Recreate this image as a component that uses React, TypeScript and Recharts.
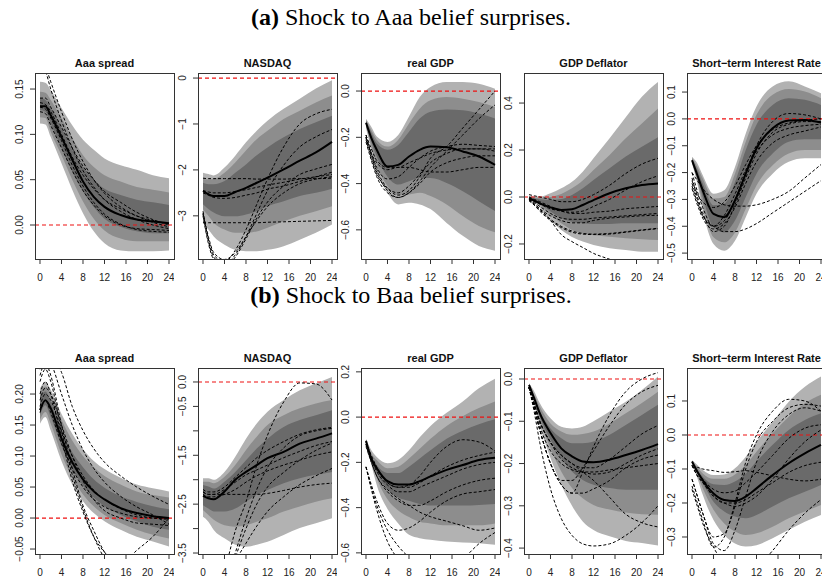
import { Area, ComposedChart, Line, ReferenceLine, XAxis, YAxis } from "recharts";

// horizons (months) at which the responses are read
const HORIZONS = [0, 1, 2, 4, 6, 8, 10, 12, 15, 18, 21, 24];
const X_TICKS = [0, 4, 8, 12, 16, 20, 24];
const TITLES = ["Aaa spread", "NASDAQ", "real GDP", "GDP Deflator", "Short\u2212term Interest Rate"];
const M = "\u2212";

// bands: [lo outer, hi outer, lo mid, hi mid, lo inner, hi inner]
// ---- (a) Shock to Aaa belief surprises
const A_SPREAD_BANDS = [
  [0.112, 0.111, 0.097, 0.068, 0.039, 0.013, -0.007, -0.02, -0.028, -0.029, -0.029, -0.028],
  [0.158, 0.157, 0.149, 0.129, 0.11, 0.094, 0.083, 0.0735, 0.066, 0.061, 0.055, 0.0515],
  [0.119, 0.118, 0.103, 0.077, 0.05, 0.026, 0.007, -0.006, -0.015, -0.018, -0.018, -0.018],
  [0.147, 0.146, 0.138, 0.118, 0.096, 0.077, 0.064, 0.055, 0.048, 0.042, 0.039, 0.036],
  [0.127, 0.125, 0.112, 0.085, 0.059, 0.037, 0.02, 0.007, -0.002, -0.007, -0.009, -0.009],
  [0.14, 0.138, 0.129, 0.107, 0.083, 0.064, 0.05, 0.04, 0.033, 0.028, 0.025, 0.022],
];
const A_SPREAD_MED = [0.131, 0.131, 0.121, 0.097, 0.072, 0.048, 0.031, 0.02, 0.011, 0.006, 0.004, 0.002];
const A_SPREAD_DRAWS = [
  [0.185, 0.175, 0.158, 0.125, 0.095, 0.07, 0.05, 0.035, 0.02, 0.01, 0.003, -0.002],
  [0.178, 0.17, 0.15, 0.115, 0.085, 0.06, 0.042, 0.028, 0.015, 0.006, 0.0, -0.004],
  [0.135, 0.133, 0.125, 0.1, 0.075, 0.055, 0.04, 0.028, 0.018, 0.01, 0.005, 0.001],
  [0.125, 0.123, 0.11, 0.085, 0.06, 0.038, 0.022, 0.01, 0.0, -0.004, -0.005, -0.006],
  [0.13, 0.128, 0.118, 0.093, 0.066, 0.043, 0.025, 0.012, 0.001, -0.005, -0.007, -0.008],
  [0.14, 0.14, 0.13, 0.108, 0.085, 0.065, 0.05, 0.037, 0.025, 0.014, 0.006, 0.0],
];

const A_NASDAQ_BANDS = [
  [-3.15, -3.3, -3.45, -3.63, -3.74, -3.77, -3.77, -3.74, -3.66, -3.52, -3.37, -3.19],
  [-2.06, -2.09, -2.12, -1.95, -1.69, -1.4, -1.15, -0.93, -0.67, -0.45, -0.23, -0.05],
  [-2.86, -3.0, -3.15, -3.3, -3.37, -3.37, -3.34, -3.26, -3.12, -3.0, -2.9, -2.79],
  [-2.2, -2.21, -2.2, -2.06, -1.84, -1.58, -1.33, -1.15, -0.89, -0.71, -0.53, -0.38],
  [-2.75, -2.85, -2.93, -3.01, -3.01, -2.97, -2.9, -2.79, -2.68, -2.57, -2.5, -2.41],
  [-2.28, -2.31, -2.31, -2.24, -2.06, -1.88, -1.68, -1.51, -1.29, -1.11, -0.96, -0.82],
];
const A_NASDAQ_MED = [-2.46, -2.53, -2.57, -2.57, -2.48, -2.39, -2.28, -2.17, -1.99, -1.8, -1.62, -1.39];
const A_NASDAQ_DRAWS = [
  [-2.18, -2.19, -2.19, -2.19, -2.19, -2.19, -2.2, -2.2, -2.2, -2.19, -2.19, -2.18],
  [-3.15, -3.15, -3.15, -3.15, -3.15, -3.15, -3.15, -3.14, -3.13, -3.12, -3.11, -3.1],
  [-2.45, -2.48, -2.5, -2.5, -2.47, -2.43, -2.38, -2.33, -2.27, -2.2, -2.15, -2.1],
  [-2.5, -2.55, -2.6, -2.62, -2.6, -2.55, -2.5, -2.42, -2.35, -2.25, -2.15, -2.05],
  [-2.95, -3.5, -3.85, -4.0, -3.75, -3.3, -2.75, -2.2, -1.5, -1.0, -0.78, -0.68],
  [-2.95, -3.55, -3.9, -4.05, -3.85, -3.45, -2.95, -2.45, -1.9, -1.5, -1.28, -1.12],
  [-3.0, -3.6, -3.95, -4.1, -3.9, -3.5, -3.05, -2.7, -2.35, -2.1, -1.98, -1.88],
  [-2.9, -3.45, -3.8, -3.95, -3.8, -3.45, -3.1, -2.8, -2.5, -2.3, -2.2, -2.15],
];

const A_GDP_BANDS = [
  [-0.16, -0.254, -0.34, -0.44, -0.49, -0.483, -0.49, -0.51, -0.57, -0.626, -0.67, -0.69],
  [-0.12, -0.155, -0.197, -0.22, -0.19, -0.11, -0.026, 0.017, 0.039, 0.039, 0.031, 0.01],
  [-0.15, -0.24, -0.32, -0.41, -0.45, -0.447, -0.44, -0.454, -0.49, -0.54, -0.583, -0.61],
  [-0.125, -0.17, -0.21, -0.24, -0.21, -0.14, -0.076, -0.04, -0.026, -0.033, -0.047, -0.069],
  [-0.145, -0.22, -0.283, -0.37, -0.404, -0.39, -0.376, -0.376, -0.397, -0.433, -0.476, -0.519],
  [-0.13, -0.18, -0.226, -0.254, -0.233, -0.176, -0.119, -0.09, -0.08, -0.083, -0.097, -0.119],
];
const A_GDP_MED = [-0.137, -0.204, -0.254, -0.326, -0.319, -0.283, -0.254, -0.24, -0.243, -0.261, -0.283, -0.319];
const A_GDP_DRAWS = [
  [-0.19, -0.27, -0.34, -0.42, -0.45, -0.43, -0.37, -0.29, -0.24, -0.16, -0.08, 0.0],
  [-0.2, -0.28, -0.35, -0.43, -0.46, -0.44, -0.39, -0.33, -0.26, -0.19, -0.12, -0.06],
  [-0.2, -0.27, -0.33, -0.38, -0.37, -0.33, -0.29, -0.26, -0.24, -0.23, -0.235, -0.24],
  [-0.21, -0.29, -0.36, -0.42, -0.44, -0.41, -0.36, -0.31, -0.27, -0.25, -0.25, -0.26],
  [-0.22, -0.3, -0.37, -0.44, -0.46, -0.44, -0.4, -0.35, -0.31, -0.29, -0.28, -0.28],
  [-0.2, -0.27, -0.31, -0.34, -0.33, -0.33, -0.34, -0.35, -0.35, -0.34, -0.33, -0.33],
  [-0.19, -0.25, -0.3, -0.33, -0.33, -0.31, -0.29, -0.27, -0.255, -0.25, -0.25, -0.25],
];

const A_DEFL_BANDS = [
  [-0.016, -0.024, -0.045, -0.098, -0.14, -0.17, -0.19, -0.204, -0.218, -0.226, -0.233, -0.233],
  [0.004, 0.002, 0.002, 0.016, 0.037, 0.065, 0.108, 0.165, 0.25, 0.34, 0.427, 0.49],
  [-0.014, -0.02, -0.034, -0.077, -0.112, -0.14, -0.155, -0.162, -0.169, -0.176, -0.18, -0.183],
  [0.002, -0.002, -0.004, 0.0, 0.013, 0.037, 0.07, 0.115, 0.179, 0.25, 0.313, 0.377],
  [-0.012, -0.018, -0.027, -0.062, -0.09, -0.105, -0.112, -0.115, -0.115, -0.112, -0.112, -0.112],
  [0.0, -0.006, -0.01, -0.013, -0.009, 0.009, 0.037, 0.072, 0.122, 0.172, 0.214, 0.254],
];
const A_DEFL_MED = [-0.006, -0.016, -0.027, -0.044, -0.055, -0.052, -0.034, -0.013, 0.016, 0.037, 0.051, 0.058];
const A_DEFL_DRAWS = [
  [0.01, 0.005, 0.0, -0.01, -0.02, -0.02, -0.01, 0.01, 0.05, 0.1, 0.14, 0.165],
  [0.0, -0.01, -0.02, -0.04, -0.06, -0.065, -0.06, -0.04, -0.01, 0.03, 0.065, 0.09],
  [-0.01, -0.02, -0.03, -0.05, -0.06, -0.07, -0.07, -0.065, -0.06, -0.05, -0.045, -0.04],
  [-0.01, -0.025, -0.04, -0.07, -0.09, -0.095, -0.095, -0.09, -0.085, -0.08, -0.075, -0.07],
  [-0.01, -0.03, -0.05, -0.08, -0.1, -0.11, -0.11, -0.1, -0.09, -0.085, -0.08, -0.078],
  [-0.015, -0.035, -0.055, -0.095, -0.125, -0.145, -0.155, -0.158, -0.155, -0.148, -0.14, -0.133],
  [-0.015, -0.035, -0.06, -0.1, -0.13, -0.15, -0.158, -0.16, -0.158, -0.15, -0.142, -0.135],
  [-0.01, -0.03, -0.05, -0.1, -0.16, -0.19, -0.215, -0.24, -0.265, -0.29, -0.31, -0.32],
];

const A_RATE_BANDS = [
  [-0.166, -0.241, -0.341, -0.466, -0.491, -0.454, -0.366, -0.279, -0.204, -0.16, -0.147, -0.147],
  [-0.141, -0.166, -0.21, -0.279, -0.266, -0.179, -0.054, 0.046, 0.121, 0.14, 0.121, 0.096],
  [-0.162, -0.229, -0.316, -0.441, -0.46, -0.423, -0.335, -0.248, -0.173, -0.129, -0.116, -0.116],
  [-0.146, -0.179, -0.222, -0.297, -0.291, -0.204, -0.085, 0.015, 0.09, 0.111, 0.102, 0.077],
  [-0.16, -0.216, -0.291, -0.404, -0.423, -0.379, -0.291, -0.204, -0.129, -0.085, -0.076, -0.076],
  [-0.15, -0.191, -0.241, -0.322, -0.316, -0.235, -0.116, -0.022, 0.052, 0.077, 0.071, 0.052],
];
const A_RATE_MED = [-0.154, -0.21, -0.266, -0.354, -0.366, -0.304, -0.204, -0.11, -0.035, -0.006, -0.004, -0.014];
const A_RATE_DRAWS = [
  [-0.2, -0.27, -0.33, -0.4, -0.38, -0.3, -0.2, -0.1, -0.01, 0.02, 0.015, 0.0],
  [-0.22, -0.29, -0.35, -0.42, -0.4, -0.32, -0.22, -0.13, -0.05, -0.02, -0.01, -0.01],
  [-0.24, -0.3, -0.36, -0.4, -0.36, -0.28, -0.19, -0.12, -0.06, -0.035, -0.025, -0.02],
  [-0.26, -0.32, -0.37, -0.41, -0.39, -0.33, -0.24, -0.16, -0.09, -0.06, -0.045, -0.03],
  [-0.23, -0.28, -0.31, -0.33, -0.31, -0.25, -0.17, -0.1, -0.04, -0.015, -0.005, 0.0],
  [-0.2, -0.23, -0.26, -0.3, -0.32, -0.325, -0.325, -0.32, -0.3, -0.27, -0.22, -0.17],
  [-0.25, -0.31, -0.36, -0.4, -0.42, -0.42, -0.41, -0.39, -0.35, -0.31, -0.27, -0.23],
];

// ---- (b) Shock to Baa belief surprises
const B_SPREAD_BANDS = [
  [0.152, 0.163, 0.141, 0.092, 0.054, 0.027, 0.008, -0.005, -0.019, -0.03, -0.038, -0.046],
  [0.209, 0.22, 0.207, 0.168, 0.136, 0.111, 0.092, 0.079, 0.065, 0.054, 0.048, 0.043],
  [0.158, 0.171, 0.152, 0.103, 0.065, 0.038, 0.019, 0.005, -0.008, -0.019, -0.027, -0.033],
  [0.204, 0.212, 0.198, 0.158, 0.125, 0.1, 0.082, 0.068, 0.054, 0.043, 0.037, 0.033],
  [0.166, 0.182, 0.163, 0.117, 0.079, 0.052, 0.033, 0.019, 0.005, -0.005, -0.014, -0.019],
  [0.196, 0.204, 0.187, 0.141, 0.106, 0.082, 0.0625, 0.049, 0.035, 0.026, 0.019, 0.014],
];
const B_SPREAD_MED = [0.174, 0.19, 0.177, 0.128, 0.09, 0.0625, 0.043, 0.03, 0.016, 0.008, 0.003, 0.0];
const B_SPREAD_DRAWS = [
  [0.26, 0.27, 0.265, 0.235, 0.18, 0.141, 0.112, 0.09, 0.068, 0.05, 0.035, 0.022],
  [0.24, 0.26, 0.25, 0.2, 0.15, 0.11, 0.08, 0.058, 0.035, 0.018, 0.005, -0.01],
  [0.2, 0.22, 0.2, 0.13, 0.06, 0.01, -0.03, -0.055, -0.075, -0.052, -0.03, 0.0],
  [0.22, 0.24, 0.22, 0.14, 0.07, 0.015, -0.03, -0.065, -0.09, -0.1, -0.1, -0.09],
  [0.23, 0.25, 0.23, 0.15, 0.08, 0.02, -0.02, -0.055, -0.085, -0.095, -0.09, -0.08],
  [0.18, 0.2, 0.19, 0.14, 0.1, 0.068, 0.045, 0.03, 0.015, 0.005, 0.0, -0.002],
  [0.19, 0.21, 0.2, 0.15, 0.1, 0.06, 0.03, 0.012, 0.0, -0.008, -0.01, -0.012],
  [0.17, 0.19, 0.17, 0.12, 0.08, 0.05, 0.03, 0.018, 0.008, 0.002, 0.0, 0.0],
];

const B_NASDAQ_BANDS = [
  [-2.76, -2.86, -3.03, -3.2, -3.33, -3.37, -3.33, -3.27, -3.13, -2.99, -2.89, -2.79],
  [-1.97, -1.97, -2.0, -1.84, -1.53, -1.16, -0.85, -0.61, -0.37, -0.17, -0.03, 0.1],
  [-2.62, -2.72, -2.82, -2.93, -2.96, -2.93, -2.86, -2.79, -2.65, -2.55, -2.45, -2.38],
  [-2.04, -2.04, -2.07, -1.94, -1.7, -1.39, -1.12, -0.88, -0.68, -0.54, -0.44, -0.37],
  [-2.52, -2.59, -2.65, -2.65, -2.59, -2.45, -2.31, -2.21, -2.07, -1.97, -1.9, -1.84],
  [-2.11, -2.14, -2.18, -2.04, -1.84, -1.6, -1.36, -1.16, -0.92, -0.78, -0.68, -0.58],
];
const B_NASDAQ_MED = [-2.33, -2.38, -2.4, -2.24, -2.0, -1.84, -1.7, -1.56, -1.43, -1.26, -1.16, -1.05];
const B_NASDAQ_DRAWS = [
  [-5.5, -5.2, -4.8, -3.9, -3.05, -2.45, -1.7, -1.09, -0.41, -0.02, -0.04, -0.37],
  [-5.5, -5.2, -4.8, -4.2, -3.5, -2.8, -2.2, -1.75, -1.35, -1.1, -1.0, -0.95],
  [-5.5, -5.2, -4.9, -4.3, -3.6, -3.0, -2.5, -2.15, -1.85, -1.6, -1.4, -1.25],
  [-5.5, -5.2, -4.9, -4.4, -3.7, -3.3, -2.95, -2.65, -2.35, -2.1, -1.92, -1.77],
  [-2.25, -2.3, -2.3, -2.3, -2.3, -2.3, -2.3, -2.28, -2.22, -2.15, -2.1, -2.07],
  [-2.2, -2.25, -2.25, -2.15, -1.95, -1.75, -1.55, -1.4, -1.22, -1.07, -0.98, -0.93],
  [-2.25, -2.3, -2.3, -2.2, -2.05, -1.9, -1.8, -1.7, -1.55, -1.42, -1.3, -1.22],
  [-2.3, -2.35, -2.35, -2.3, -2.2, -2.05, -1.92, -1.82, -1.7, -1.6, -1.5, -1.43],
];

const B_GDP_BANDS = [
  [-0.11, -0.21, -0.3, -0.406, -0.47, -0.52, -0.535, -0.542, -0.55, -0.554, -0.557, -0.564],
  [-0.096, -0.147, -0.176, -0.204, -0.19, -0.147, -0.089, -0.039, 0.019, 0.069, 0.127, 0.17],
  [-0.108, -0.197, -0.269, -0.363, -0.413, -0.442, -0.463, -0.47, -0.478, -0.478, -0.478, -0.47],
  [-0.1, -0.161, -0.19, -0.226, -0.219, -0.183, -0.14, -0.096, -0.039, 0.004, 0.04, 0.069],
  [-0.106, -0.19, -0.247, -0.319, -0.355, -0.37, -0.384, -0.391, -0.391, -0.391, -0.388, -0.384],
  [-0.102, -0.176, -0.212, -0.247, -0.247, -0.219, -0.183, -0.147, -0.096, -0.06, -0.032, -0.01],
];
const B_GDP_MED = [-0.104, -0.185, -0.226, -0.283, -0.298, -0.298, -0.283, -0.262, -0.233, -0.212, -0.19, -0.18];
const B_GDP_DRAWS = [
  [-0.11, -0.17, -0.22, -0.29, -0.31, -0.3, -0.26, -0.2, -0.13, -0.1, -0.11, -0.15],
  [-0.12, -0.18, -0.23, -0.29, -0.31, -0.31, -0.29, -0.26, -0.22, -0.19, -0.17, -0.155],
  [-0.12, -0.19, -0.24, -0.3, -0.33, -0.33, -0.31, -0.29, -0.26, -0.23, -0.21, -0.2],
  [-0.13, -0.2, -0.26, -0.33, -0.37, -0.39, -0.39, -0.37, -0.33, -0.3, -0.28, -0.27],
  [-0.22, -0.3, -0.37, -0.47, -0.5, -0.49, -0.46, -0.42, -0.37, -0.34, -0.33, -0.32],
  [-0.22, -0.32, -0.41, -0.55, -0.63, -0.69, -0.72, -0.73, -0.7, -0.63, -0.56, -0.51],
  [-0.12, -0.2, -0.26, -0.32, -0.36, -0.39, -0.42, -0.44, -0.46, -0.48, -0.5, -0.49],
  [-0.22, -0.31, -0.39, -0.5, -0.57, -0.62, -0.66, -0.68, -0.69, -0.68, -0.65, -0.62],
];

const B_DEFL_BANDS = [
  [-0.018, -0.061, -0.109, -0.187, -0.25, -0.3, -0.337, -0.357, -0.372, -0.383, -0.388, -0.394],
  [-0.01, -0.03, -0.057, -0.093, -0.113, -0.117, -0.113, -0.1, -0.077, -0.054, -0.026, 0.006],
  [-0.016, -0.054, -0.097, -0.164, -0.219, -0.258, -0.282, -0.298, -0.309, -0.316, -0.32, -0.321],
  [-0.012, -0.038, -0.065, -0.105, -0.124, -0.132, -0.13, -0.124, -0.105, -0.081, -0.057, -0.03],
  [-0.015, -0.05, -0.089, -0.144, -0.187, -0.219, -0.239, -0.25, -0.258, -0.262, -0.262, -0.262],
  [-0.013, -0.044, -0.076, -0.117, -0.14, -0.152, -0.152, -0.148, -0.132, -0.109, -0.085, -0.061],
];
const B_DEFL_MED = [-0.014, -0.047, -0.081, -0.128, -0.164, -0.183, -0.195, -0.197, -0.191, -0.18, -0.168, -0.154];
const B_DEFL_DRAWS = [
  [-0.02, -0.07, -0.12, -0.2, -0.25, -0.27, -0.22, -0.16, -0.085, -0.03, 0.0, 0.015],
  [-0.02, -0.07, -0.12, -0.2, -0.24, -0.24, -0.21, -0.17, -0.11, -0.06, -0.03, -0.015],
  [-0.02, -0.06, -0.1, -0.15, -0.18, -0.2, -0.21, -0.21, -0.19, -0.16, -0.13, -0.11],
  [-0.02, -0.06, -0.1, -0.15, -0.19, -0.21, -0.22, -0.225, -0.22, -0.2, -0.18, -0.165],
  [-0.02, -0.07, -0.12, -0.2, -0.25, -0.27, -0.27, -0.26, -0.24, -0.21, -0.19, -0.18],
  [-0.02, -0.06, -0.11, -0.17, -0.2, -0.215, -0.22, -0.22, -0.215, -0.21, -0.205, -0.2],
  [-0.02, -0.06, -0.1, -0.15, -0.18, -0.2, -0.22, -0.24, -0.28, -0.32, -0.34, -0.35],
  [-0.02, -0.08, -0.15, -0.26, -0.33, -0.37, -0.39, -0.395, -0.39, -0.37, -0.34, -0.3],
];

const B_RATE_BANDS = [
  [-0.083, -0.127, -0.176, -0.25, -0.294, -0.319, -0.328, -0.324, -0.304, -0.279, -0.255, -0.235],
  [-0.074, -0.088, -0.103, -0.118, -0.116, -0.098, -0.064, -0.02, 0.039, 0.098, 0.142, 0.172],
  [-0.081, -0.118, -0.157, -0.22, -0.26, -0.284, -0.294, -0.289, -0.27, -0.245, -0.225, -0.206],
  [-0.076, -0.096, -0.113, -0.129, -0.129, -0.116, -0.088, -0.049, 0.005, 0.054, 0.093, 0.118],
  [-0.08, -0.113, -0.142, -0.196, -0.225, -0.24, -0.245, -0.235, -0.21, -0.186, -0.167, -0.147],
  [-0.077, -0.103, -0.123, -0.145, -0.147, -0.137, -0.113, -0.078, -0.029, 0.015, 0.044, 0.064],
];
const B_RATE_MED = [-0.078, -0.108, -0.133, -0.172, -0.191, -0.194, -0.181, -0.157, -0.118, -0.083, -0.054, -0.029];
const B_RATE_DRAWS = [
  [-0.15, -0.2, -0.25, -0.33, -0.3, -0.2, -0.08, 0.0, 0.07, 0.105, 0.1, 0.07],
  [-0.13, -0.18, -0.23, -0.3, -0.29, -0.21, -0.1, -0.02, 0.04, 0.08, 0.09, 0.085],
  [-0.09, -0.095, -0.1, -0.105, -0.11, -0.108, -0.105, -0.11, -0.12, -0.13, -0.135, -0.13],
  [-0.09, -0.11, -0.13, -0.16, -0.17, -0.165, -0.14, -0.11, -0.06, -0.01, 0.02, 0.03],
  [-0.09, -0.12, -0.14, -0.18, -0.2, -0.21, -0.2, -0.18, -0.13, -0.07, -0.02, 0.015],
  [-0.09, -0.12, -0.14, -0.18, -0.2, -0.2, -0.19, -0.17, -0.14, -0.11, -0.09, -0.08],
  [-0.16, -0.21, -0.26, -0.33, -0.38, -0.41, -0.41, -0.39, -0.34, -0.28, -0.23, -0.19],
  [-0.13, -0.18, -0.23, -0.32, -0.34, -0.28, -0.18, -0.08, 0.01, 0.06, 0.08, 0.07],
];

// y-axis ticks and labels per panel
const A_TICKS = [
  [0, 0.05, 0.1, 0.15],
  [-3, -2, -1, 0],
  [-0.6, -0.4, -0.2, 0],
  [-0.2, 0, 0.2, 0.4],
  [-0.5, -0.4, -0.3, -0.2, -0.1, 0, 0.1],
];
const A_LABELS = [
  ["0.00", "0.05", "0.10", "0.15"],
  [M + "3", M + "2", M + "1", "0"],
  [M + "0.6", M + "0.4", M + "0.2", "0.0"],
  [M + "0.2", "0.0", "0.2", "0.4"],
  [M + "0.5", M + "0.4", M + "0.3", M + "0.2", M + "0.1", "0.0", "0.1"],
];
const B_TICKS = [
  [-0.05, 0, 0.05, 0.1, 0.15, 0.2],
  [-3.5, -3, -2.5, -2, -1.5, -1, -0.5, 0],
  [-0.6, -0.4, -0.2, 0, 0.2],
  [-0.4, -0.3, -0.2, -0.1, 0],
  [-0.3, -0.2, -0.1, 0, 0.1],
];
const B_LABELS = [
  [M + "0.05", "0.00", "0.05", "0.10", "0.15", "0.20"],
  [M + "3.5", "", M + "2.5", "", M + "1.5", "", M + "0.5", "0.0"],
  [M + "0.6", M + "0.4", M + "0.2", "0.0", "0.2"],
  [M + "0.4", M + "0.3", M + "0.2", M + "0.1", "0.0"],
  [M + "0.3", M + "0.2", M + "0.1", "0.0", "0.1"],
];

// layout
const BOX_LEFT = [35, 198, 361, 524, 687];
const ROW_TOP = [73, 368];
const BOX_W = 139;
const BOX_H = 186;
const AXIS_W = 40;
const AXIS_H = 30;
const TOP_PAD = 14;
const X_DOMAIN = [-0.93, 24.93];
const A_DOMAINS = [
  [-0.0375, 0.1677],
  [-3.94, 0.11],
  [-0.726, 0.078],
  [-0.264, 0.528],
  [-0.522, 0.171],
];
const B_DOMAINS = [
  [-0.058, 0.242],
  [-3.52, 0.286],
  [-0.605, 0.217],
  [-0.414, 0.026],
  [-0.35, 0.197],
];

const BAND_COLORS = ["#b2b2b2", "#8d8d8d", "#6a6a6a"];
const FONT = "'Liberation Sans', Arial, Helvetica, sans-serif";
const SERIF = "'Liberation Serif', 'Times New Roman', serif";

interface PanelProps {
  bands: number[][];
  median: number[];
  draws: number[][];
  domain: number[];
  ticks: number[];
  labels: string[];
  left: number;
  top: number;
}

function Panel({ bands, median, draws, domain, ticks, labels, left, top }: PanelProps) {
  const rows = HORIZONS.map((h, i) => {
    const r: Record<string, any> = {
      h,
      b1: [bands[0][i], bands[1][i]],
      b2: [bands[2][i], bands[3][i]],
      b3: [bands[4][i], bands[5][i]],
      med: median[i],
    };
    draws.forEach((d, k) => (r["d" + k] = d[i]));
    return r;
  });

  const yTick = (p: any) => {
    const idx = ticks.findIndex((t) => Math.abs(t - p.payload.value) < 1e-9);
    return (
      <text
        transform={`translate(${AXIS_W - 16},${p.y}) rotate(-90)`}
        textAnchor="middle"
        dy="0.35em"
        fontSize={10}
        fontFamily={FONT}
        fill="#222"
      >
        {idx >= 0 ? labels[idx] : ""}
      </text>
    );
  };
  const xTick = (p: any) => (
    <text x={p.x} y={TOP_PAD + BOX_H + 18} textAnchor="middle" dy="0.35em" fontSize={10} fontFamily={FONT} fill="#222">
      {p.payload.value}
    </text>
  );

  return (
    <>
      <div
        style={{
          position: "absolute",
          left: left - AXIS_W,
          top: top - TOP_PAD,
          width: AXIS_W + BOX_W,
          height: TOP_PAD + BOX_H + AXIS_H,
        }}
      >
        <ComposedChart
          width={AXIS_W + BOX_W}
          height={TOP_PAD + BOX_H + AXIS_H}
          data={rows}
          margin={{ top: TOP_PAD, right: 0, bottom: 0, left: 0 }}
        >
          <XAxis
            type="number"
            dataKey="h"
            domain={X_DOMAIN}
            ticks={X_TICKS}
            interval={0}
            allowDataOverflow
            axisLine={false}
            tickSize={5}
            tickLine={{ stroke: "#333" }}
            height={AXIS_H}
            tick={xTick}
          />
          <YAxis
            type="number"
            domain={domain}
            ticks={ticks}
            interval={0}
            allowDataOverflow
            axisLine={false}
            tickSize={5}
            tickLine={{ stroke: "#333" }}
            width={AXIS_W}
            tick={yTick}
          />
          {["b1", "b2", "b3"].map((k, i) => (
            <Area
              key={k}
              dataKey={k}
              type="monotone"
              stroke="none"
              fill={BAND_COLORS[i]}
              fillOpacity={1}
              dot={false}
              activeDot={false}
              isAnimationActive={false}
            />
          ))}
          <ReferenceLine y={0} stroke="#ee1111" strokeWidth={1.2} strokeDasharray="4 3" />
          {draws.map((_, k) => (
            <Line
              key={k}
              dataKey={"d" + k}
              type="monotone"
              stroke="#000"
              strokeWidth={1}
              strokeDasharray="3 2"
              dot={false}
              activeDot={false}
              isAnimationActive={false}
            />
          ))}
          <Line
            dataKey="med"
            type="monotone"
            stroke="#000"
            strokeWidth={2}
            dot={false}
            activeDot={false}
            isAnimationActive={false}
          />
        </ComposedChart>
      </div>
      <div
        style={{
          position: "absolute",
          left,
          top,
          width: BOX_W + 1,
          height: BOX_H + 1,
          border: "1px solid #333",
          boxSizing: "border-box",
          pointerEvents: "none",
        }}
      />
    </>
  );
}

const A_SET = [
  [A_SPREAD_BANDS, A_SPREAD_MED, A_SPREAD_DRAWS],
  [A_NASDAQ_BANDS, A_NASDAQ_MED, A_NASDAQ_DRAWS],
  [A_GDP_BANDS, A_GDP_MED, A_GDP_DRAWS],
  [A_DEFL_BANDS, A_DEFL_MED, A_DEFL_DRAWS],
  [A_RATE_BANDS, A_RATE_MED, A_RATE_DRAWS],
] as any[];
const B_SET = [
  [B_SPREAD_BANDS, B_SPREAD_MED, B_SPREAD_DRAWS],
  [B_NASDAQ_BANDS, B_NASDAQ_MED, B_NASDAQ_DRAWS],
  [B_GDP_BANDS, B_GDP_MED, B_GDP_DRAWS],
  [B_DEFL_BANDS, B_DEFL_MED, B_DEFL_DRAWS],
  [B_RATE_BANDS, B_RATE_MED, B_RATE_DRAWS],
] as any[];

export default function App() {
  const rows = [
    { set: A_SET, ticks: A_TICKS, labels: A_LABELS, domains: A_DOMAINS },
    { set: B_SET, ticks: B_TICKS, labels: B_LABELS, domains: B_DOMAINS },
  ];
  return (
    <div style={{ position: "absolute", left: 0, top: 0, width: 822, height: 577, overflow: "hidden", background: "#fff" }}>
      {rows.map((row, r) =>
        row.set.map((s: any, c: number) => (
          <Panel
            key={r + "-" + c}
            bands={s[0]}
            median={s[1]}
            draws={s[2]}
            domain={row.domains[c]}
            ticks={row.ticks[c]}
            labels={row.labels[c]}
            left={BOX_LEFT[c]}
            top={ROW_TOP[r]}
          />
        ))
      )}
      <svg width={822} height={577} style={{ position: "absolute", left: 0, top: 0, pointerEvents: "none" }}>
        <text x={411} y={25} textAnchor="middle" fontSize={24} fontFamily={SERIF} fill="#000">
          <tspan fontWeight="bold">(a)</tspan> Shock to Aaa belief surprises.
        </text>
        <text x={411} y={303} textAnchor="middle" fontSize={24} fontFamily={SERIF} fill="#000">
          <tspan fontWeight="bold">(b)</tspan> Shock to Baa belief surprises.
        </text>
        {ROW_TOP.map((t, r) =>
          TITLES.map((title, c) => (
            <text
              key={r + title}
              x={BOX_LEFT[c] + BOX_W / 2}
              y={t - 6}
              textAnchor="middle"
              fontSize={11}
              fontWeight="bold"
              fontFamily={FONT}
              fill="#111"
            >
              {title}
            </text>
          ))
        )}
      </svg>
    </div>
  );
}
